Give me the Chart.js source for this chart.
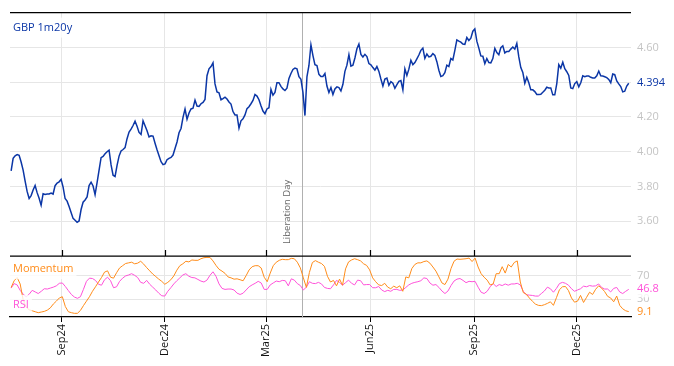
<!DOCTYPE html>
<html>
<head>
<meta charset="utf-8">
<script src="https://cdn.jsdelivr.net/npm/chart.js@4.4.1/dist/chart.umd.min.js"></script>
<style>
  html, body { margin: 0; padding: 0; background: #fff; }
</style>
</head>
<body>
<canvas id="chart" width="674" height="366"></canvas>
<script>
// dates of the first and last observation, all series share them
const seriesStart = '2024-07-18';
const seriesEnd = '2026-01-16';
const axisStart = '2024-07-17';
const axisEnd = '2026-01-18';

const tickDates = ['2024-09-01', '2024-12-01', '2025-03-01', '2025-06-01', '2025-09-01', '2025-12-01'];
const tickLabels = ['Sep24', 'Dec24', 'Mar25', 'Jun25', 'Sep25', 'Dec25'];

const eventDate = '2025-04-02';
const eventLabel = 'Liberation Day';

const priceTicks = [3.6, 3.8, 4.0, 4.2, 4.4, 4.6];
const indTicks = [30, 70];

// GBP 1m20y, evenly spaced readings
const gbp = [
  3.890, 3.962, 3.977, 3.984, 3.979, 3.941, 3.894, 3.831, 3.772, 3.731,
  3.748, 3.780, 3.806, 3.765, 3.733, 3.693, 3.759, 3.755, 3.757, 3.757,
  3.763, 3.757, 3.805, 3.820, 3.827, 3.841, 3.797, 3.731, 3.716, 3.685,
  3.651, 3.617, 3.606, 3.594, 3.602, 3.668, 3.710, 3.723, 3.740, 3.806,
  3.825, 3.803, 3.753, 3.822, 3.895, 3.966, 3.973, 3.988, 4.000, 4.009,
  3.924, 3.865, 3.858, 3.922, 3.975, 4.005, 4.013, 4.024, 4.075, 4.113,
  4.130, 4.151, 4.176, 4.147, 4.111, 4.100, 4.178, 4.149, 4.121, 4.085,
  4.092, 4.090, 4.049, 4.011, 3.977, 3.943, 3.926, 3.930, 3.954, 3.962,
  3.967, 3.981, 4.019, 4.056, 4.109, 4.134, 4.198, 4.246, 4.187, 4.223,
  4.246, 4.250, 4.297, 4.263, 4.261, 4.276, 4.284, 4.301, 4.437, 4.477,
  4.490, 4.511, 4.390, 4.344, 4.339,
  4.299, 4.306, 4.314, 4.303, 4.286, 4.274, 4.231, 4.212, 4.212, 4.136,
  4.178, 4.189, 4.212, 4.248, 4.259, 4.276, 4.295, 4.329, 4.320, 4.299,
  4.265, 4.234, 4.219, 4.246, 4.253, 4.358, 4.325, 4.341, 4.397, 4.397,
  4.376, 4.361, 4.352, 4.365, 4.422, 4.450, 4.473, 4.481, 4.477, 4.431,
  4.416, 4.341, 4.208, 4.431, 4.496, 4.615, 4.553, 4.501, 4.496, 4.445,
  4.433, 4.433, 4.450, 4.378, 4.341, 4.369, 4.329, 4.361, 4.373, 4.369,
  4.350, 4.388, 4.462, 4.498, 4.558, 4.492, 4.498, 4.539, 4.592, 4.619,
  4.560, 4.545, 4.560, 4.547, 4.507, 4.500, 4.484, 4.469, 4.490, 4.462,
  4.418, 4.378, 4.418, 4.424, 4.382, 4.403, 4.394, 4.365, 4.386, 4.405,
  4.409, 4.356, 4.477, 4.439, 4.475, 4.526, 4.501, 4.513, 4.534, 4.556,
  4.583, 4.596, 4.537, 4.562,
  4.545, 4.549, 4.564, 4.554, 4.518, 4.469, 4.433, 4.437, 4.454, 4.498,
  4.490, 4.536, 4.528, 4.583, 4.643, 4.636, 4.630, 4.619, 4.617, 4.657,
  4.640, 4.653, 4.693, 4.706, 4.636, 4.596, 4.551, 4.549, 4.507, 4.536,
  4.513, 4.511, 4.536, 4.594, 4.570, 4.558, 4.598, 4.609, 4.568, 4.577,
  4.577, 4.590, 4.602, 4.590, 4.623, 4.545, 4.484, 4.456, 4.394, 4.428,
  4.397, 4.356, 4.356, 4.346, 4.329, 4.329, 4.331, 4.342, 4.354, 4.371,
  4.367, 4.367, 4.327, 4.327, 4.392, 4.501, 4.481, 4.515, 4.477, 4.460,
  4.439, 4.367, 4.363, 4.392, 4.403, 4.373, 4.397, 4.437, 4.431, 4.435,
  4.435, 4.428, 4.424, 4.424, 4.437, 4.464, 4.437, 4.435, 4.431, 4.426,
  4.416, 4.397, 4.447, 4.443, 4.407, 4.390, 4.375, 4.344, 4.348, 4.378,
  4.394
];

const momentum = [
  50.0, 61.3, 66.8, 55.9, 28.9, 16.5, 12.2, 10.5, 8.9, 7.3,
  8.4, 9.5, 11.6, 15.4, 21.9, 26.8, 32.2, 34.3, 17.6, 8.9,
  7.3, 6.2, 6.2, 11.1, 19.2, 26.8, 34.3, 43.5, 51.1, 59.2,
  66.8, 75.9, 78.1, 67.3, 65.7, 74.9, 83.0, 86.8, 90.5, 91.6,
  92.7, 90.0, 91.1, 94.3, 89.5, 83.5, 78.1, 72.7, 68.4, 64.1,
  60.3, 55.4, 58.6, 63.0, 69.5, 79.2, 86.8, 90.0, 94.3, 93.2,
  96.5, 95.9, 95.9, 98.6, 100.3, 100.8, 100.8, 94.9, 87.3, 80.8,
  77.6, 73.8, 67.8, 66.2, 64.0, 64.6, 63.0, 61.3, 70.0, 79.7,
  85.1, 86.8, 86.8, 83.0, 67.3, 59.7, 74.3, 86.8, 92.7, 95.9,
  97.6, 97.0, 97.0, 99.2, 98.6, 92.7, 83.0, 66.2, 50.0, 75.4,
  92.2, 95.4, 92.7, 90.5, 85.7, 68.9, 59.2, 61.9, 52.7, 64.1,
  53.8, 81.4, 93.2, 96.5, 98.6, 97.0, 94.9, 90.0, 87.3, 79.7,
  66.2, 59.7, 54.3, 53.2, 57.0, 50.5, 47.8, 52.2, 49.5, 52.7,
  43.5, 67.8, 66.2, 81.9, 88.9, 91.6, 91.6, 93.8, 94.9, 91.1,
  84.6, 77.6, 67.8, 57.6, 54.9, 64.1, 81.9, 94.3, 98.1, 97.6,
  98.1, 98.6, 99.7, 93.8, 99.7, 84.6, 73.3, 67.3, 62.4, 54.3,
  55.9, 73.3, 73.3, 85.1, 74.3, 88.9, 84.6, 92.2, 94.9, 59.2,
  41.3, 38.6, 32.2, 26.8, 21.9, 19.7, 19.2, 20.8, 23.0, 25.7,
  19.7, 32.7, 46.2, 51.1, 51.6, 44.6, 32.2, 25.1, 26.8, 36.5,
  24.6, 33.3, 41.9, 38.1, 46.8, 52.7, 48.9, 43.0, 34.9, 32.2,
  25.7, 35.4, 19.7, 13.8, 10.5, 9.1
];

const rsi = [
  48.9, 56.5, 54.3, 45.1, 38.6, 34.3, 38.6, 45.1, 42.4, 39.7,
  43.5, 47.8, 47.3, 48.9, 50.5, 52.7, 57.0, 57.6, 51.6, 44.6,
  38.1, 33.8, 31.6, 34.3, 46.7, 60.3, 65.7, 65.1, 61.9, 55.4,
  53.8, 63.0, 67.3, 61.4, 49.5, 51.1, 60.3, 65.7, 69.5, 71.1,
  73.3, 70.5, 66.8, 58.6, 57.0, 61.9, 55.4, 50.5, 45.7, 40.3,
  35.9, 35.4, 43.5, 49.5, 56.0, 61.4, 66.2, 71.1, 73.3, 68.9,
  66.8, 66.2, 63.5, 60.8, 59.2, 62.4, 70.5, 76.5, 68.9, 56.0,
  48.4, 46.7, 47.3, 47.3, 45.7, 40.3, 38.1, 40.3, 45.7, 51.1,
  54.3, 57.0, 60.3, 57.6, 46.7, 46.7, 54.3, 57.6, 60.8, 59.7,
  61.9, 61.4, 52.7, 64.6, 62.4, 56.5, 53.2, 45.7, 50.5, 59.7,
  57.0, 56.5, 58.6, 56.0, 50.0, 48.4, 47.8, 54.3, 61.9, 58.6,
  53.8, 58.1, 62.4, 57.0, 54.3, 62.4, 61.4, 54.3, 54.9, 54.9,
  49.5, 49.5, 51.6, 45.7, 43.0, 45.1, 43.5, 46.7, 46.7, 45.1,
  45.7, 50.0, 54.3, 57.0, 58.6, 59.7, 61.4, 66.2, 65.1, 57.6,
  53.8, 54.9, 50.0, 44.0, 39.7, 44.0, 53.2, 60.8, 64.1, 65.1,
  61.9, 58.1, 60.3, 59.7, 60.3, 50.5, 41.9, 39.7, 43.5, 51.1,
  56.5, 51.6, 54.9, 53.2, 55.9, 53.8, 55.9, 55.9, 57.0, 54.3,
  43.5, 37.6, 37.0, 36.5, 35.4, 35.4, 39.7, 44.0, 50.5, 47.8,
  41.9, 48.4, 56.5, 58.6, 57.0, 53.8, 47.8, 43.5, 45.7, 47.8,
  52.2, 51.1, 53.2, 52.2, 52.7, 55.9, 50.0, 47.3, 47.3, 42.4,
  48.4, 50.0, 42.4, 39.7, 43.5, 46.8
];

const BLUE = '#0b36a6';
const ORANGE = '#ff8c1a';
const PINK = '#ff52d9';
const GRID = '#e6e6e6';
const TICK_GREY = '#c4c4c4';
const FONT = "'Open Sans', sans-serif";

// days counted from 1 Sep 2024
const dayOf = s => (Date.parse(s + 'T00:00:00Z') - Date.parse('2024-09-01T00:00:00Z')) / 864e5;
const tickDays = tickDates.map(dayOf);

function toPoints(values) {
  const d0 = dayOf(seriesStart), d1 = dayOf(seriesEnd);
  const step = (d1 - d0) / (values.length - 1);
  return values.map((v, i) => ({ x: d0 + i * step, y: v }));
}

const lastPrice = gbp[gbp.length - 1];

function boxedText(ctx, text, x, cy, color, font, pad) {
  ctx.font = font;
  const w = ctx.measureText(text).width;
  ctx.fillStyle = 'rgba(255,255,255,0.8)';
  ctx.fillRect(x - pad, cy - 7 - pad, w + pad * 2, 14 + pad * 2);
  ctx.fillStyle = color;
  ctx.textBaseline = 'middle';
  ctx.textAlign = 'left';
  ctx.fillText(text, x, cy);
}

const decor = {
  id: 'decor',
  beforeDatasetsDraw(chart) {
    const { ctx, chartArea: a, scales: { x } } = chart;
    const ex = Math.round(x.getPixelForValue(dayOf(eventDate))) + 0.5;
    ctx.save();
    ctx.strokeStyle = '#b0b0b0';
    ctx.lineWidth = 1;
    ctx.beginPath();
    ctx.moveTo(ex, a.top);
    ctx.lineTo(ex, a.bottom);
    ctx.stroke();
    ctx.restore();
  },
  afterDatasetsDraw(chart) {
    const { ctx, chartArea: a, scales: { x, y, yInd } } = chart;
    const mid = yInd.top;
    ctx.save();

    // panel borders and the inner tick marks
    ctx.strokeStyle = '#000';
    ctx.lineWidth = 1.2;
    ctx.beginPath();
    ctx.moveTo(a.left, a.top);
    ctx.lineTo(a.right, a.top);
    ctx.moveTo(a.left, mid);
    ctx.lineTo(a.right, mid);
    tickDays.forEach(d => {
      const px = Math.round(x.getPixelForValue(d)) + 0.5;
      ctx.moveTo(px, mid);
      ctx.lineTo(px, mid - 6);
    });
    ctx.stroke();

    // event label
    const ex = x.getPixelForValue(dayOf(eventDate));
    ctx.save();
    ctx.translate(ex - 12, mid - 12);
    ctx.rotate(-Math.PI / 2);
    ctx.font = '9.5px ' + FONT;
    ctx.fillStyle = '#666';
    ctx.textAlign = 'left';
    ctx.textBaseline = 'alphabetic';
    ctx.fillText(eventLabel, 0, 0);
    ctx.restore();

    // panel titles
    const f11 = '11px ' + FONT;
    boxedText(ctx, 'GBP 1m20y', a.left + 3, a.top + 15, BLUE, f11, 3);
    boxedText(ctx, 'Momentum', a.left + 3, mid + 13, ORANGE, f11, 3);
    boxedText(ctx, 'RSI', a.left + 3, a.bottom - 12, PINK, f11, 3);

    // last values on the right
    const lx = a.right + 6;
    boxedText(ctx, lastPrice.toFixed(3), lx, y.getPixelForValue(lastPrice), BLUE, f11, 1);
    boxedText(ctx, rsi[rsi.length - 1].toFixed(1), lx, yInd.getPixelForValue(rsi[rsi.length - 1]), PINK, f11, 1);
    boxedText(ctx, momentum[momentum.length - 1].toFixed(1), lx, yInd.getPixelForValue(momentum[momentum.length - 1]), ORANGE, f11, 1);

    ctx.restore();
  }
};

const ctx = document.getElementById('chart').getContext('2d');
new Chart(ctx, {
  type: 'line',
  data: {
    datasets: [
      { label: 'GBP 1m20y', data: toPoints(gbp), yAxisID: 'y', borderColor: BLUE, borderWidth: 1.5 },
      { label: 'Momentum', data: toPoints(momentum), yAxisID: 'yInd', borderColor: ORANGE, borderWidth: 1 },
      { label: 'RSI', data: toPoints(rsi), yAxisID: 'yInd', borderColor: PINK, borderWidth: 1 }
    ]
  },
  options: {
    responsive: false,
    animation: false,
    parsing: true,
    elements: { point: { radius: 0 }, line: { tension: 0 } },
    layout: { padding: { left: 10, top: 10, right: 0, bottom: 0 } },
    plugins: { legend: { display: false }, tooltip: { enabled: false } },
    scales: {
      x: {
        type: 'linear',
        min: dayOf(axisStart),
        max: dayOf(axisEnd),
        afterBuildTicks: s => { s.ticks = tickDays.map(v => ({ value: v })); },
        afterFit: s => { s.height = 49; },
        ticks: {
          autoSkip: false,
          minRotation: 90,
          maxRotation: 90,
          padding: 2,
          color: '#111',
          font: { family: FONT, size: 11 },
          callback: v => tickLabels[tickDays.indexOf(v)]
        },
        grid: { color: GRID, tickColor: '#000', tickLength: 5, drawTicks: true },
        border: { color: '#000', width: 1.2 }
      },
      y: {
        position: 'right',
        stack: 'panels',
        stackWeight: 4,
        min: 3.4,
        max: 4.8,
        afterBuildTicks: s => { s.ticks = priceTicks.map(v => ({ value: v })); },
        afterFit: s => { s.width = 43; },
        ticks: {
          color: TICK_GREY,
          padding: 6,
          font: { family: FONT, size: 11 },
          callback: v => Math.abs(v - lastPrice) < 0.05 ? '' : v.toFixed(2)
        },
        grid: { color: GRID, drawTicks: false },
        border: { display: false }
      },
      yInd: {
        position: 'right',
        stack: 'panels',
        stackWeight: 1,
        min: 0,
        max: 103,
        afterBuildTicks: s => { s.ticks = indTicks.map(v => ({ value: v })); },
        afterFit: s => { s.width = 43; },
        ticks: {
          color: TICK_GREY,
          padding: 6,
          font: { family: FONT, size: 11 },
          callback: v => String(v)
        },
        grid: { color: GRID, drawTicks: false },
        border: { display: false }
      }
    }
  },
  plugins: [decor]
});
</script>
</body>
</html>
